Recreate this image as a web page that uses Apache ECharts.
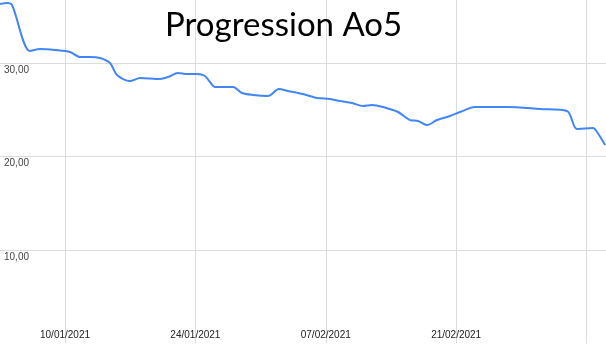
<!DOCTYPE html>
<html>
<head>
<meta charset="utf-8">
<script src="https://cdn.jsdelivr.net/npm/echarts@6/dist/echarts.min.js"></script>
<style>
  html, body { margin: 0; padding: 0; background: #fff; }
  #chart { width: 606px; height: 352px; }
</style>
</head>
<body>
<div id="chart"></div>
<script>
// days counted from 10/01/2021
const days = [-6.98, -6.23, -5.69, -3.76, -2.68, -1.07, 0.54, 1.61, 2.68, 3.76, 4.83, 5.58, 6.98, 8.05, 10.2, 11.06, 12.13, 13.1, 14.17, 15.03, 15.57, 16.11, 18.04, 19.01, 20.19, 21.8, 22.98, 23.95, 25.56, 27.06, 28.46, 29.53, 30.82, 32.0, 32.97, 34.15, 35.76, 37.05, 37.91, 38.87, 39.95, 41.34, 42.42, 44.03, 47.46, 51.0, 53.9, 54.98, 56.7, 57.13, 57.99]
const values = [36.31, 36.42, 36.2, 31.28, 31.5, 31.39, 31.18, 30.64, 30.64, 30.53, 30.0, 28.72, 28.07, 28.4, 28.29, 28.5, 28.93, 28.82, 28.82, 28.61, 27.97, 27.43, 27.43, 26.79, 26.58, 26.47, 27.22, 27.01, 26.68, 26.26, 26.15, 25.94, 25.72, 25.4, 25.51, 25.29, 24.76, 23.9, 23.8, 23.37, 23.9, 24.33, 24.76, 25.29, 25.29, 25.08, 24.87, 22.94, 23.05, 22.62, 21.23]

const tickDays = [0, 14, 28, 42, 56]
// the last label is cut off in the original picture
const tickLabels = ['10/01/2021', '24/01/2021', '07/02/2021', '21/02/2021', '']
const yTicks = [10, 20, 30]

const chart = echarts.init(document.getElementById('chart'))

chart.setOption({
  animation: false,
  title: {
    text: 'Progression Ao5',
    left: 160,
    top: 4,
    textStyle: {
      fontFamily: 'Lato',
      fontSize: 33,
      fontWeight: 'normal',
      color: '#000'
    }
  },
  grid: {
    left: 0,
    right: 0,
    top: 0,
    bottom: 8.5
  },
  xAxis: {
    type: 'value',
    min: -6.98,
    max: 58.09,
    axisLine: { show: false },
    axisTick: { show: false, customValues: tickDays },
    axisLabel: {
      customValues: tickDays,
      margin: -13,
      color: '#222',
      fontSize: 10,
      fontFamily: 'Liberation Sans',
      formatter: v => tickLabels[tickDays.indexOf(v)] || ''
    },
    splitLine: { show: true, lineStyle: { color: '#dcdcdc', width: 1 } }
  },
  yAxis: {
    type: 'value',
    min: 0,
    max: 36.74,
    axisLine: { show: false },
    axisTick: { show: false, customValues: yTicks },
    axisLabel: {
      customValues: yTicks,
      inside: true,
      margin: 4,
      align: 'left',
      verticalAlign: 'top',
      padding: [2, 0, 0, 0],
      color: '#444',
      fontSize: 10,
      fontFamily: 'Liberation Sans',
      formatter: v => v.toFixed(2).replace('.', ',')
    },
    splitLine: { show: true, lineStyle: { color: '#dcdcdc', width: 1 } }
  },
  series: [{
    type: 'line',
    data: days.map((d, i) => [d, values[i]]),
    smooth: 0.3,
    showSymbol: false,
    lineStyle: { color: '#4285f4', width: 2 }
  }]
})
</script>
</body>
</html>
